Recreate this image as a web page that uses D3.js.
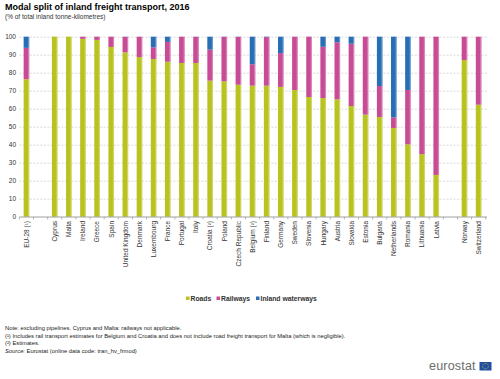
<!DOCTYPE html>
<html><head><meta charset="utf-8">
<script src="https://cdn.jsdelivr.net/npm/d3@7"></script>
<style>body{margin:0;background:#fff;}svg{display:block;font-family:"Liberation Sans",Arial,sans-serif;}</style>
</head><body>
<svg id="c" width="500" height="379"></svg>
<script>
const categories = ["EU-28 (\u00b9)","gap1","Cyprus","Malta","Ireland","Greece","Spain","United Kingdom","Denmark","Luxembourg","France","Portugal","Italy","Croatia (\u00b2)","Poland","Czech Republic","Belgium (\u00b2)","Finland","Germany","Sweden","Slovenia","Hungary","Austria","Slovakia","Estonia","Bulgaria","Netherlands","Romania","Lithuania","Latvia","gap2","Norway","Switzerland"];
const roads    = [76.4,null,100,100,98.8,98.2,94.3,91.3,88.7,87.6,86.1,85.4,85.4,75.6,75.2,73.3,72.8,72.8,72.1,70.4,66.5,65.9,65.2,61.5,56.7,55.4,49.3,40.2,34.8,23.2,null,87.0,62.2];
const railways = [17.4,null,0,0,1.2,1.8,5.7,8.6,11.3,6.5,11.0,14.6,14.5,17.2,24.7,26.6,11.9,27.0,18.8,29.6,33.5,28.5,31.7,34.6,43.3,17.2,5.9,30.2,65.2,76.8,null,13.0,37.8];
const waterways= [6.2,null,0,0,0,0,0,0.1,0,5.9,2.9,0,0.1,7.2,0.1,0.1,15.3,0.2,9.1,0,0,5.6,3.1,3.9,0,27.4,44.8,29.6,0,0,null,0,0];
const seriesNames = ["Roads","Railways","Inland waterways"];
const colors = ["#B9C31F","#C84B96","#286EB4"];
const yTicks = [0,10,20,30,40,50,60,70,80,90,100];

const svg = d3.select("#c");
const x = d3.scaleBand().domain(categories).range([19.4,485.7]).paddingInner(0.6).paddingOuter(0.3);
const y = d3.scaleLinear().domain([0,100]).range([216.7,36.7]);

svg.append("text").attr("x",5).attr("y",10).attr("font-size",9).attr("font-weight","bold").attr("fill","#000").text("Modal split of inland freight transport, 2016");
svg.append("text").attr("x",5).attr("y",18.5).attr("font-size",6.5).attr("fill","#333").text("(% of total inland tonne-kilometres)");

// grid
svg.append("g").selectAll("line").data(yTicks.filter(d=>d>0)).join("line")
  .attr("x1",19.4).attr("x2",487).attr("y1",d=>y(d)+0.5).attr("y2",d=>y(d)+0.5)
  .attr("stroke","#cfcfcf").attr("stroke-width",0.8).attr("stroke-dasharray","2,1.5");
svg.append("g").selectAll("text").data(yTicks).join("text")
  .attr("x",16).attr("y",d=>y(d)+2.3).attr("text-anchor","end").attr("font-size",6.5).attr("fill","#333").text(d=>d);

// stacks
const rows = categories.map((c,i)=>({cat:c,Roads:roads[i]||0,Railways:railways[i]||0,"Inland waterways":waterways[i]||0}));
const stack = d3.stack().keys(seriesNames)(rows);
const g = svg.append("g");
stack.forEach((s,si)=>{
  g.selectAll(null).data(s.filter(d=>!d.data.cat.startsWith("gap") && d[1]-d[0]>0)).join("rect")
    .attr("x",d=>x(d.data.cat)).attr("width",x.bandwidth())
    .attr("y",d=>y(d[1])).attr("height",d=>y(d[0])-y(d[1]))
    .attr("fill",colors[si]);
  g.selectAll(null).data(s.filter(d=>!d.data.cat.startsWith("gap") && d[1]-d[0]>0)).join("rect")
    .attr("x",d=>x(d.data.cat)+x.bandwidth()-1.2).attr("width",1.2)
    .attr("y",d=>y(d[1])).attr("height",d=>y(d[0])-y(d[1]))
    .attr("fill","#fff").attr("opacity",0.3);
});

// x axis
svg.append("line").attr("x1",19.4).attr("x2",487).attr("y1",217).attr("y2",217).attr("stroke","#888").attr("stroke-width",0.8);
const step = x.step();
svg.append("g").selectAll("line").data(d3.range(categories.length+1)).join("line")
  .attr("x1",d=>19.4+d*step).attr("x2",d=>19.4+d*step).attr("y1",217).attr("y2",219.5).attr("stroke","#888").attr("stroke-width",0.6);
svg.append("g").selectAll("text").data(categories.filter(c=>!c.startsWith("gap"))).join("text")
  .attr("transform",d=>`translate(${x(d)+x.bandwidth()/2+2.3},221) rotate(-90)`)
  .attr("text-anchor","end").attr("font-size",6.5).attr("fill","#333").text(d=>d);

// legend
const leg = [{n:"Roads",x:186},{n:"Railways",x:216.5},{n:"Inland waterways",x:256}];
leg.forEach((l,i)=>{
  svg.append("rect").attr("x",l.x).attr("y",296.5).attr("width",3.5).attr("height",3.5).attr("fill",colors[i]);
  svg.append("text").attr("x",l.x+4.5).attr("y",300.5).attr("font-size",6.8).attr("font-weight","bold").attr("fill","#333").text(l.n);
});

// notes
const notes = ["Note: excluding pipelines. Cyprus and Malta: railways not applicable.",
 "(\u00b9) Includes rail transport estimates for Belgium and Croatia and does not include road freight transport for Malta (which is negligible).",
 "(\u00b2) Estimates."];
notes.forEach((t,i)=>svg.append("text").attr("x",5).attr("y",330+i*7.5).attr("font-size",5.8).attr("fill","#222").text(t));
const src = svg.append("text").attr("x",5).attr("y",352.5).attr("font-size",5.8).attr("fill","#222");
src.append("tspan").attr("font-style","italic").text("Source:");
src.append("tspan").text(" Eurostat (online data code: tran_hv_frmod)");

// logo
svg.append("text").attr("x",429).attr("y",369.5).attr("font-size",12.5).attr("fill","#6b6b6b").attr("letter-spacing",0.2).text("eurostat");
svg.append("rect").attr("x",479.5).attr("y",362).attr("width",12).attr("height",8.5).attr("fill","#1f4ea3");
svg.append("g").selectAll("circle").data(d3.range(12)).join("circle")
  .attr("cx",d=>485.5+2.8*Math.cos(d*Math.PI/6)).attr("cy",d=>366.25+2.8*Math.sin(d*Math.PI/6)).attr("r",0.45).attr("fill","#ffdd00");
</script>
</body></html>
